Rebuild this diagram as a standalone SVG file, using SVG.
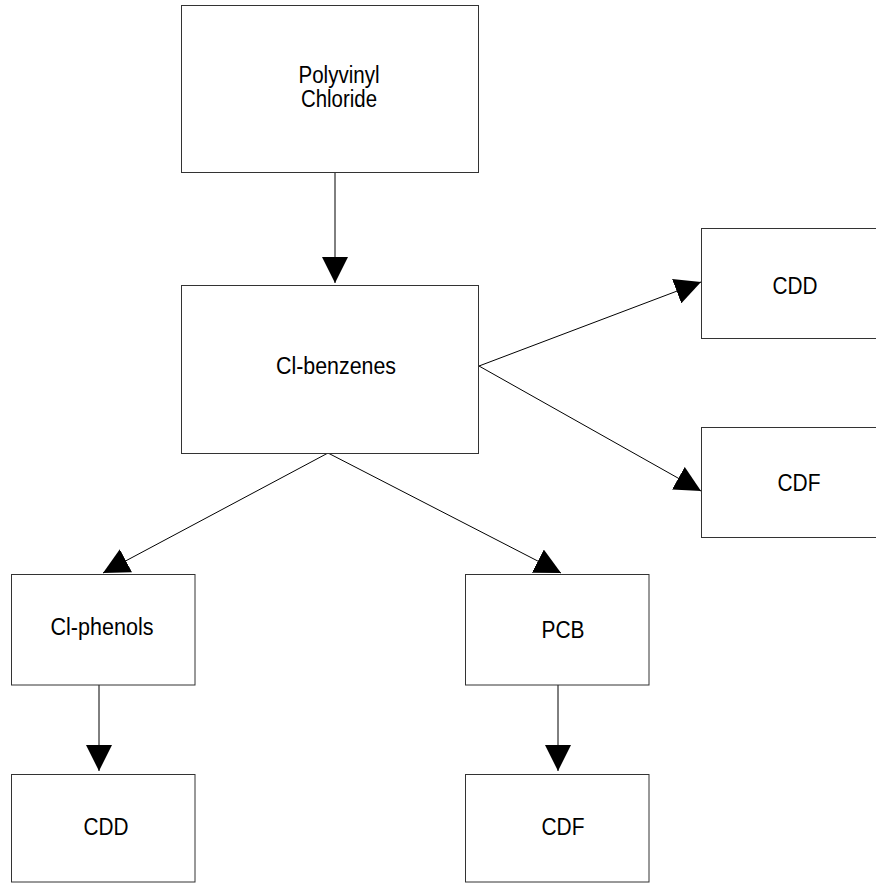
<svg xmlns="http://www.w3.org/2000/svg" width="876" height="884" viewBox="0 0 876 884">
<style>
.box{fill:#fff;stroke:#333;stroke-width:1}
.lbl{font-family:"Liberation Sans",Arial,sans-serif;font-size:23px;fill:#000;text-anchor:middle}
.edge{stroke:#000;stroke-width:1;fill:none;marker-end:url(#ah)}
</style>
<defs>
<marker id="ah" markerUnits="userSpaceOnUse" markerWidth="26" markerHeight="26" refX="26" refY="13" orient="auto" viewBox="0 0 26 26">
<path d="M0,0 L26,13 L0,26 Z" fill="#000"/>
</marker>
</defs>
<rect width="876" height="884" fill="#fff"/>
<g id="connectors">
<line class="edge" x1="335" y1="173" x2="335" y2="283"/>
<line class="edge" x1="479" y1="366" x2="701" y2="282"/>
<line class="edge" x1="479" y1="366" x2="701" y2="491"/>
<line class="edge" x1="328" y1="453" x2="103" y2="573"/>
<line class="edge" x1="328" y1="453" x2="561" y2="573"/>
<line class="edge" x1="99" y1="685" x2="99" y2="771"/>
<line class="edge" x1="558" y1="685" x2="558" y2="771"/>
</g>
<g id="pvc">
<rect class="box" x="181.5" y="5.5" width="297" height="167"/>
<text class="lbl" x="339" y="83" textLength="81" lengthAdjust="spacingAndGlyphs">Polyvinyl</text>
<text class="lbl" x="339" y="107" textLength="76" lengthAdjust="spacingAndGlyphs">Chloride</text>
</g>
<g id="clbenzenes">
<rect class="box" x="181.5" y="285.5" width="297" height="168"/>
<text class="lbl" x="336" y="374" textLength="120" lengthAdjust="spacingAndGlyphs">Cl-benzenes</text>
</g>
<g id="cdd-right">
<rect class="box" x="701.5" y="228.5" width="184" height="110"/>
<text class="lbl" x="795" y="294" textLength="45" lengthAdjust="spacingAndGlyphs">CDD</text>
</g>
<g id="cdf-right">
<rect class="box" x="701.5" y="427.5" width="184" height="110"/>
<text class="lbl" x="799" y="491" textLength="43" lengthAdjust="spacingAndGlyphs">CDF</text>
</g>
<g id="clphenols">
<rect class="box" x="11.5" y="574.5" width="183.5" height="110.5"/>
<text class="lbl" x="102" y="635" textLength="103" lengthAdjust="spacingAndGlyphs">Cl-phenols</text>
</g>
<g id="pcb">
<rect class="box" x="465.5" y="574.5" width="183.5" height="110.5"/>
<text class="lbl" x="563" y="638" textLength="43" lengthAdjust="spacingAndGlyphs">PCB</text>
</g>
<g id="cdd-bottom">
<rect class="box" x="11.5" y="774.5" width="183.5" height="107.5"/>
<text class="lbl" x="106" y="835" textLength="45" lengthAdjust="spacingAndGlyphs">CDD</text>
</g>
<g id="cdf-bottom">
<rect class="box" x="465.5" y="774.5" width="183.5" height="107.5"/>
<text class="lbl" x="563" y="835" textLength="43" lengthAdjust="spacingAndGlyphs">CDF</text>
</g>
</svg>
